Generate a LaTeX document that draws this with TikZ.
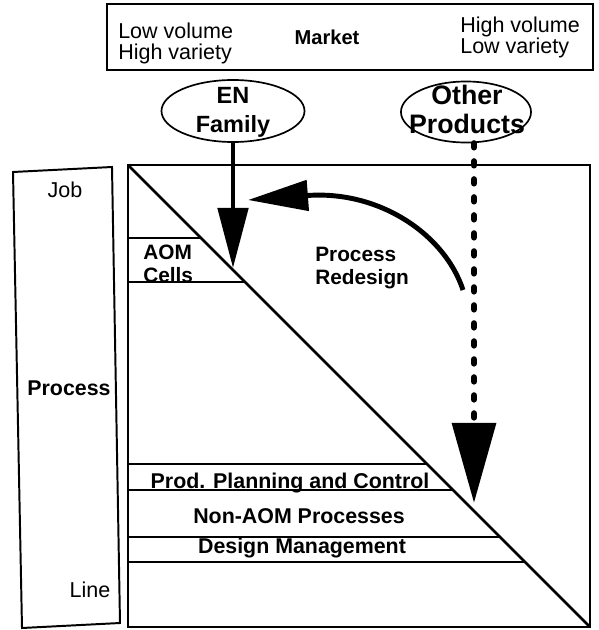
\documentclass[tikz,border=0pt]{standalone}
\usepackage{fontspec}
\setmainfont{Liberation Sans}
\usetikzlibrary{arrows.meta,shapes.geometric}

\tikzset{
  txt/.style={inner sep=0pt, align=left, font=\fontsize{15.3}{14.9}\selectfont},
  btxt/.style={inner sep=0pt, align=left, font=\fontsize{15.2}{15}\selectfont\bfseries},
  mtxt/.style={inner sep=0pt, align=left, font=\fontsize{14.8}{16.3}\selectfont\bfseries},
  prod/.style={ellipse, draw, line width=1.2pt, inner sep=0pt},
  prodtxt/.style={inner sep=0pt, align=center, font=\fontsize{16.7}{21}\selectfont\bfseries},
  bigarrow/.style={line width=3.5pt, -{Triangle[length=1.5cm,width=0.75cm]}},
  dotarrow/.style={line width=0.16cm, line cap=round, dash pattern=on 0.1cm off 0.35cm,
    -{Triangle[length=2cm,width=1.075cm]}}
}

\begin{document}
\begin{tikzpicture}[x=0.025cm,y=-0.025cm]
\useasboundingbox (0,0) rectangle (598,630);

% market
\draw[line width=1.4pt] (107,4) rectangle (593,70);
\node[txt, anchor=north west] (low) at (118,22.5) {Low volume\\High variety};
\node[txt, anchor=base, font=\fontsize{14.3}{15}\selectfont\bfseries] (market) at (327,45) {Market};
\node[txt, anchor=north west] (high) at (460,16.5) {High volume\\Low variety};

% products
\node[prod, minimum width=3.575cm, minimum height=1.55cm] (en) at (233,111) {};
\node[prodtxt, anchor=north] (entxt) at (233,87) {EN\\Family};
\node[prod, minimum width=3.25cm, minimum height=1.525cm] (other) at (466,112) {};
\node[prodtxt, anchor=north, font=\fontsize{19}{20.6}\selectfont\bfseries] (othertxt) at (467,85) {Other\\Products};

% process types
\draw[line width=1.4pt] (13,172) -- (112,167) -- (120,623) -- (22,628) -- cycle;
\node[txt, anchor=base] (job) at (65,197) {Job};
\node[txt, anchor=base, font=\fontsize{15.2}{15}\selectfont\bfseries] (proc) at (69,395) {Process};
\node[txt, anchor=base] (line) at (90,597) {Line};

% matrix
\draw[line width=2pt] (128,165) rectangle (590,627);
\draw[line width=2pt] (128,165) -- (590,627);
\draw[line width=1.6pt] (128,238) -- (201,238);
\draw[line width=1.6pt] (128,282) -- (245,282);
\node[mtxt, anchor=north west] (aom) at (143,245) {AOM\\Cells};
\draw[line width=1.6pt] (128,464) -- (427,464);
\draw[line width=1.6pt] (128,490) -- (453,490);
\draw[line width=1.6pt] (128,537) -- (500,537);
\draw[line width=1.6pt] (128,562) -- (525,562);
\node[btxt, anchor=base] (ppc) at (290,488) {Prod. Planning and Control};
\node[btxt, anchor=base] (nonaom) at (299,523) {Non-AOM Processes};
\node[btxt, anchor=base] (dm) at (302,553) {Design Management};

% arrows
\coordinate (entip) at (233,268);
\coordinate (othertip) at (474,503);
\coordinate (redstart) at (463,290);
\coordinate (redtip) at (248,200);
\draw[bigarrow] (en.south) -- (entip);
\draw[dotarrow] (other.south -| othertip) -- (othertip);
\draw[bigarrow] (redstart) .. controls (445,235) and (380,190) .. (redtip);
\node[mtxt, anchor=north west] (redesign) at (315,247) {Process\\Redesign};
\end{tikzpicture}
\end{document}
